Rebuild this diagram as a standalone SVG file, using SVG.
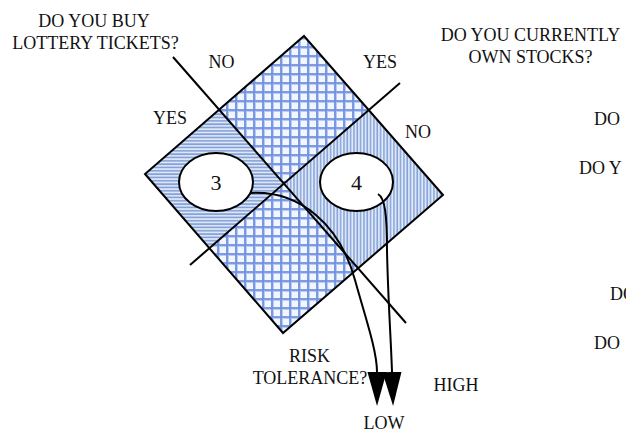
<svg xmlns="http://www.w3.org/2000/svg" width="626" height="434" viewBox="0 0 626 434">
<defs>
<style>
text{font-family:"Liberation Serif","Times New Roman",serif;font-size:18px;fill:#111}
.num{font-size:22px}
.mid{text-anchor:middle}
.edge{fill:none;stroke:#000;stroke-width:2}
.ell{fill:#fff;stroke:#000;stroke-width:2}
.conn{fill:none;stroke:#000;stroke-width:2}
</style>
<pattern id="grid" patternUnits="userSpaceOnUse" x="1" y="1" width="9" height="9">
<rect width="9" height="9" fill="#f2f6fe"/>
<path d="M0,1H9M1,0V9" stroke="#b9cbf2" stroke-width="4"/>
<path d="M0,1H9M1,0V9" stroke="#6c8ddf" stroke-width="1.6"/>
</pattern>
<pattern id="hs" patternUnits="userSpaceOnUse" width="6" height="3.33">
<rect width="6" height="3.33" fill="#e3ebf8"/>
<path d="M0,1H6" stroke="#7d9bd6" stroke-width="1.6"/>
</pattern>
<pattern id="vs" patternUnits="userSpaceOnUse" width="3.33" height="6">
<rect width="3.33" height="6" fill="#e3ebf8"/>
<path d="M1,0V6" stroke="#86a4da" stroke-width="1.6"/>
</pattern>
<marker id="arr" markerUnits="userSpaceOnUse" markerWidth="34" markerHeight="20" viewBox="0 0 32 18" refX="0" refY="9" orient="auto">
<path d="M0,0L32,9L0,18z" fill="#000"/>
</marker>
</defs>
<rect width="626" height="434" fill="#fff"/>

<g id="diagram-square">
<polygon points="304,36 368.8,110.1 283.9,183.6 219.1,109.7" fill="url(#grid)"/>
<polygon points="283.9,183.6 358.1,268.3 283,333 209.4,248.2" fill="url(#grid)"/>
<polygon points="219.1,109.7 283.9,183.6 209.4,248.2 145,174" fill="url(#hs)"/>
<polygon points="368.8,110.1 443,195 358.1,268.3 283.9,183.6" fill="url(#vs)"/>
<polygon class="edge" points="304,36 443,195 283,333 145,174"/>
<line class="edge" x1="173" y1="57" x2="406" y2="323"/>
<line class="edge" x1="400" y1="83" x2="190" y2="265"/>
</g>

<g id="node-3">
<ellipse class="ell" cx="216" cy="182" rx="37" ry="29"/>
<text class="num mid" x="216" y="190">3</text>
</g>
<g id="node-4">
<ellipse class="ell" cx="356.5" cy="182" rx="36.5" ry="29"/>
<text class="num mid" x="356.5" y="190">4</text>
</g>

<g id="connectors">
<path class="conn" d="M250,193 C300,190 340,225 355,280 C364,313 377,350 377,372" marker-end="url(#arr)"/>
<path class="conn" d="M378,194 C385,198 387,215 387,250 C388,300 391,340 392,372" marker-end="url(#arr)"/>
</g>

<g id="labels">
<text class="mid" x="94" y="27">DO YOU BUY</text>
<text class="mid" x="95.5" y="49">LOTTERY TICKETS?</text>
<text class="mid" x="221.5" y="68">NO</text>
<text class="mid" x="380" y="68">YES</text>
<text class="mid" x="170" y="124">YES</text>
<text class="mid" x="418" y="138">NO</text>
<text class="mid" x="530.5" y="41">DO YOU CURRENTLY</text>
<text class="mid" x="530.5" y="63">OWN STOCKS?</text>
<text x="594" y="125">DO</text>
<text x="579" y="174">DO Y</text>
<text x="610" y="300">DO</text>
<text x="594" y="349">DO</text>
<text class="mid" x="309.5" y="362">RISK</text>
<text class="mid" x="310" y="384">TOLERANCE?</text>
<text class="mid" x="456" y="391">HIGH</text>
<text class="mid" x="384" y="429">LOW</text>
</g>
</svg>
